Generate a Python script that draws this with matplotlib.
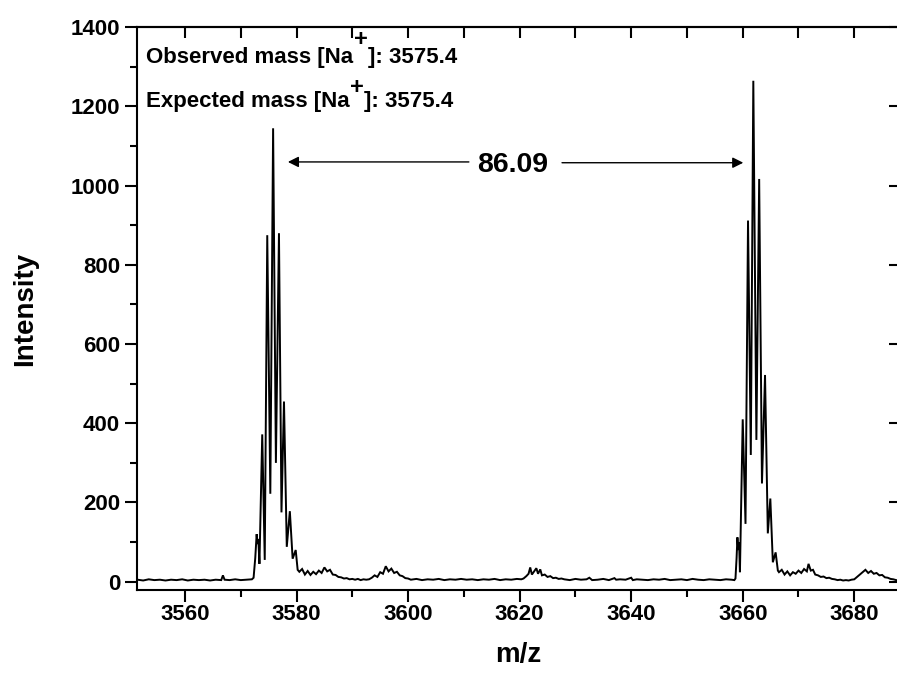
import matplotlib
matplotlib.use("Agg")
import matplotlib.pyplot as plt
import numpy as np
from matplotlib.ticker import MultipleLocator, StrMethodFormatter
from matplotlib.transforms import IdentityTransform

# ---------------- data ----------------
base1_mz = [3551.5, 3552.5, 3553.5, 3554.5, 3555.5, 3556.5, 3557.5, 3558.5, 3559.5,
            3560.5, 3561.5, 3562.5, 3563.5, 3564.5, 3565.5, 3566.5, 3566.8, 3567.1,
            3568.0, 3569.0, 3570.0, 3571.0, 3572.0]
base1_int = [5, 3, 6, 4, 5, 3, 5, 4, 6, 3, 5, 4, 5, 3, 5, 4, 16, 5, 4, 6, 4, 5, 6]

cluster1_mz = [3572.3, 3572.6, 3572.85, 3573.0, 3573.15, 3573.35, 3573.85, 3574.3,
               3574.75, 3575.3, 3575.8, 3576.3, 3576.85, 3577.3, 3577.75, 3578.25,
               3578.8, 3579.3, 3579.85, 3580.2]
cluster1_int = [10, 60, 120, 95, 108, 45, 372, 55, 875, 222, 1145, 300, 880, 175,
                455, 88, 178, 58, 80, 30]

hump1_mz = [3580.5, 3581.0, 3581.5, 3582.0, 3582.5, 3583.0, 3583.5, 3584.0, 3584.5,
            3585.0, 3585.5, 3586.0, 3586.5, 3587.0, 3587.5, 3588.0, 3588.5, 3589.0,
            3589.5, 3590.0, 3590.5, 3591.0, 3591.5, 3592.0, 3592.5, 3593.0]
hump1_int = [25, 32, 18, 27, 17, 25, 19, 28, 22, 36, 26, 30, 18, 17, 12, 11, 8, 9,
             6, 7, 5, 7, 4, 6, 5, 6]

hump2_mz = [3593.5, 3594.0, 3594.5, 3595.0, 3595.5, 3596.0, 3596.5, 3597.0, 3597.5,
            3598.0, 3598.5, 3599.0, 3599.5, 3600.0]
hump2_int = [10, 16, 12, 24, 20, 39, 26, 33, 22, 25, 16, 14, 9, 8]

base2_mz = [3600.5, 3601.5, 3602.5, 3603.5, 3604.5, 3605.5, 3606.5, 3607.5, 3608.5,
            3609.5, 3610.5, 3611.5, 3612.5, 3613.5, 3614.5, 3615.5, 3616.5, 3617.5,
            3618.5, 3619.5, 3620.3]
base2_int = [5, 7, 4, 6, 5, 7, 4, 6, 5, 7, 5, 6, 4, 6, 5, 7, 4, 6, 5, 7, 6]

hump3_mz = [3620.7, 3621.2, 3621.6, 3621.9, 3622.2, 3622.6, 3623.0, 3623.3, 3623.7,
            3624.0, 3624.5, 3625.0, 3625.5, 3626.0, 3626.5, 3627.0, 3627.5]
hump3_int = [8, 14, 20, 36, 18, 26, 34, 20, 31, 16, 18, 12, 14, 9, 10, 7, 8]

base3_mz = [3628, 3629, 3630, 3631, 3632, 3632.5, 3633, 3634, 3635, 3636, 3637, 3637.3,
            3638, 3639, 3640, 3640.3, 3641, 3642, 3643, 3644, 3645, 3646, 3647, 3648,
            3649, 3650, 3651, 3652, 3653, 3654, 3655, 3656, 3657, 3658, 3658.5]
base3_int = [6, 4, 7, 5, 6, 10, 4, 5, 7, 4, 9, 5, 6, 5, 10, 4, 6, 5, 4, 6, 5, 7, 4, 5,
             6, 4, 7, 5, 4, 6, 5, 4, 6, 5, 4]

cluster2_mz = [3658.7, 3658.9, 3659.05, 3659.2, 3659.35, 3659.5, 3660.0, 3660.5,
               3660.95, 3661.45, 3661.9, 3662.45, 3662.95, 3663.45, 3664.0, 3664.5,
               3664.95, 3665.4, 3665.9, 3666.3]
cluster2_int = [8, 60, 112, 80, 100, 24, 410, 146, 912, 320, 1265, 358, 1017, 248,
                522, 122, 210, 49, 74, 28]

hump4_mz = [3666.5, 3667.0, 3667.5, 3668.0, 3668.5, 3669.0, 3669.5, 3670.0, 3670.5,
            3671.0, 3671.5, 3671.8, 3672.2, 3672.6, 3673.0, 3673.5, 3674.0, 3674.5,
            3675.0, 3675.5, 3676.0, 3676.5, 3677.0, 3677.5, 3678.0, 3678.5, 3679.0,
            3679.5]
hump4_int = [24, 30, 18, 26, 16, 24, 20, 28, 22, 32, 26, 45, 28, 30, 18, 16, 12, 13,
             9, 10, 7, 6, 4, 5, 3, 4, 3, 5]

hump5_mz = [3680.0, 3680.5, 3681.0, 3681.5, 3682.0, 3682.5, 3683.0, 3683.5, 3684.0,
            3684.5, 3685.0, 3685.5, 3686.0, 3686.5, 3687.0, 3687.5, 3688.2]
hump5_int = [6, 12, 18, 24, 30, 22, 27, 20, 22, 16, 17, 11, 10, 7, 6, 4, 3]

x_ticks = [3560, 3580, 3600, 3620, 3640, 3660, 3680]
y_ticks = [0, 200, 400, 600, 800, 1000, 1200, 1400]

mz = np.concatenate([base1_mz, cluster1_mz, hump1_mz, hump2_mz, base2_mz, hump3_mz,
                     base3_mz, cluster2_mz, hump4_mz, hump5_mz])
inten = np.concatenate([base1_int, cluster1_int, hump1_int, hump2_int, base2_int,
                        hump3_int, base3_int, cluster2_int, hump4_int, hump5_int])

# ---------------- figure ----------------
plt.rcParams['font.family'] = ['Liberation Sans', 'DejaVu Sans']
plt.rcParams['font.weight'] = 'bold'

W, H = 897, 675
fig = plt.figure(figsize=(W / 100, H / 100), dpi=100)
L, R, T, B = 137.3, 900.0, 27.3, 590.0
ax = fig.add_axes([L / W, (H - B) / H, (R - L) / W, (B - T) / H])

ax.plot(mz, inten, color='black', lw=1.4, solid_joinstyle='miter')
ax.set_xlim(3551.45, 3688.2)
ax.set_ylim(-21, 1400)

ax.set_xticks(x_ticks)
ax.set_yticks(y_ticks)
ax.xaxis.set_minor_locator(MultipleLocator(10))
ax.yaxis.set_minor_locator(MultipleLocator(100))
ax.xaxis.set_major_formatter(StrMethodFormatter('{x:.0f}'))
ax.yaxis.set_major_formatter(StrMethodFormatter('{x:.0f}'))
ax.tick_params(axis='both', which='major', direction='out', length=8.4, width=1.5,
               labelsize=16, top=False, right=False)
ax.tick_params(axis='x', which='major', pad=2)
ax.tick_params(axis='y', which='major', pad=4)
ax.tick_params(axis='both', which='minor', direction='out', length=5, width=1.5,
               top=False, right=False)
for s in ax.spines.values():
    s.set_linewidth(1.5)

topax = ax.secondary_xaxis('top')
topax.xaxis.set_major_locator(MultipleLocator(10))
topax.tick_params(direction='in', length=8, width=1.5, labeltop=False)
topax.spines['top'].set_linewidth(1.5)

rightax = ax.secondary_yaxis('right')
rightax.yaxis.set_major_locator(MultipleLocator(200))
rightax.tick_params(direction='in', length=8, width=1.5, labelright=False)
rightax.spines['right'].set_linewidth(1.5)

ax.set_xlabel('m/z', fontsize=20, fontweight='bold')
ax.set_ylabel('Intensity', fontsize=20, fontweight='bold')
ax.xaxis.set_label_coords(0.5, -(642 - B) / (B - T))
ax.yaxis.set_label_coords((38 - L) / (R - L), 0.5)

# separation annotation
ax.annotate('', xy=(3578.45, 1060), xytext=(3610.9, 1060),
            arrowprops=dict(arrowstyle='-|>', color='black', lw=1.0,
                            mutation_scale=16, shrinkA=0, shrinkB=0))
ax.annotate('', xy=(3660.1, 1058), xytext=(3627.6, 1058),
            arrowprops=dict(arrowstyle='-|>', color='black', lw=1.0,
                            mutation_scale=16, shrinkA=0, shrinkB=0))
ax.text(3618.8, 1034.6, '86.09', ha='center', va='baseline', fontsize=20.5,
        fontweight='bold')

# mass labels with raised "+"
fig.canvas.draw()
renderer = fig.canvas.get_renderer()
idt = IdentityTransform()


def mass_label(prefix, suffix, baseline_px, plus_center_px):
    t1 = fig.text(146, H - baseline_px, prefix, transform=idt, fontsize=16,
                  fontweight='bold', ha='left', va='baseline')
    bb1 = t1.get_window_extent(renderer)
    t2 = fig.text(bb1.x1 + 0.5, H - plus_center_px, '+', transform=idt, fontsize=17,
                  fontweight='bold', ha='left', va='center')
    bb2 = t2.get_window_extent(renderer)
    fig.text(bb2.x1 + 0.5, H - baseline_px, suffix, transform=idt, fontsize=16,
             fontweight='bold', ha='left', va='baseline')


mass_label('Observed mass [Na', ']: 3575.4', 63.3, 39.7)
mass_label('Expected mass [Na', ']: 3575.4', 106.5, 87.8)

fig.savefig('out.png', dpi=100)
